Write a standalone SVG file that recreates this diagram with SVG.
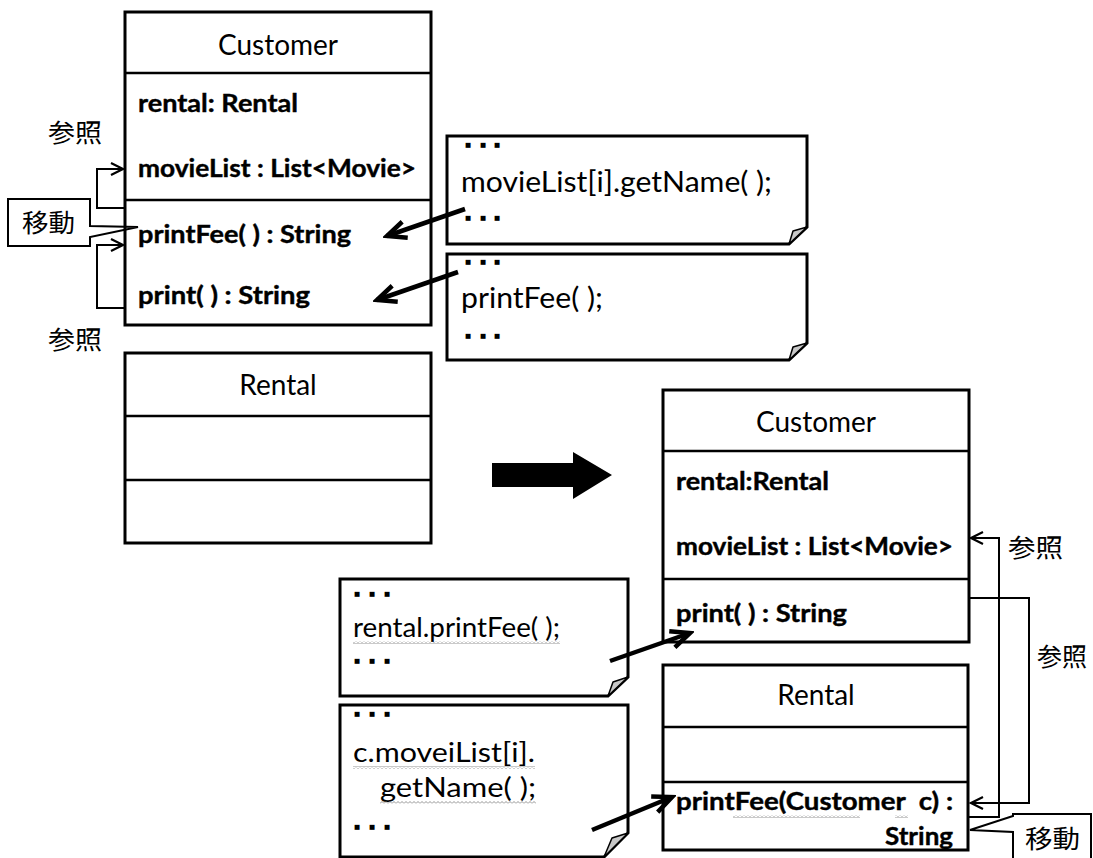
<svg xmlns="http://www.w3.org/2000/svg" width="1093" height="858" viewBox="0 0 1093 858">
<style>
.box{fill:none;stroke:#000;stroke-width:3}
.div{stroke:#000;stroke-width:2.5}
.title{font-family:Lato,"Liberation Sans",sans-serif;font-size:28px;fill:#000}
.attr{font-family:Lato,"Liberation Sans",sans-serif;font-size:24px;font-weight:bold;fill:#000;stroke:#000;stroke-width:0.4}
.code{font-family:Lato,"Liberation Sans",sans-serif;font-size:28px;fill:#000}
.code2{font-family:Lato,"Liberation Sans",sans-serif;font-size:26px;fill:#000}
.dots{font-family:"DejaVu Sans",sans-serif;font-size:6.5px;fill:#000}
.jp{font-family:"Noto Sans CJK JP",sans-serif;font-size:25px;fill:#000}
.note{fill:#fff;stroke:#000;stroke-width:3;stroke-linejoin:miter}
.fold{fill:#c8c8c8;stroke:#000;stroke-width:1.5;stroke-linejoin:round}
.thick{fill:none;stroke:#000;stroke-width:4.5;marker-end:url(#ah)}
.thin{fill:none;stroke:#000;stroke-width:2;marker-end:url(#th)}
.callout{fill:#fff;stroke:#000;stroke-width:2}
</style>
<defs>
<marker id="ah" markerUnits="userSpaceOnUse" viewBox="0 0 26 22" markerWidth="26" markerHeight="22" refX="22" refY="11" orient="auto">
<path d="M3,2.5 L22,11 L3,19.5" fill="none" stroke="#000" stroke-width="4.5"/>
</marker>
<marker id="th" markerUnits="userSpaceOnUse" viewBox="0 0 16 16" markerWidth="16" markerHeight="16" refX="14" refY="8" orient="auto">
<path d="M2,2 L14,8 L2,14" fill="none" stroke="#000" stroke-width="2.2"/>
</marker>
<pattern id="wave" width="4" height="3" patternUnits="userSpaceOnUse">
<path d="M0,2.5 L2,0.5 L4,2.5" fill="none" stroke="#777" stroke-width="0.8"/>
</pattern>
</defs>
<rect width="1093" height="858" fill="#fff"/>

<g id="callout-left">
<path class="callout" d="M8,199 L90,199 L90,226 L138,227 L90,237 L90,246 L8,246 Z"/>
<text class="jp" x="22" y="232" textLength="53" lengthAdjust="spacingAndGlyphs">移動</text>
</g>

<g id="customer-old">
<rect class="box" x="125" y="12" width="306" height="313"/>
<line class="div" x1="125" y1="73" x2="431" y2="73"/>
<line class="div" x1="125" y1="200" x2="431" y2="200"/>
<text class="title" x="278" y="55" text-anchor="middle">Customer</text>
<text class="attr" x="138" y="112" textLength="160" lengthAdjust="spacingAndGlyphs">rental: Rental</text>
<text class="attr" x="138" y="177" textLength="278" lengthAdjust="spacingAndGlyphs">movieList : List&lt;Movie&gt;</text>
<text class="attr" x="138" y="243" textLength="213" lengthAdjust="spacingAndGlyphs">printFee( ) : String</text>
<text class="attr" x="138" y="304" textLength="172" lengthAdjust="spacingAndGlyphs">print( ) : String</text>
</g>

<g id="rental-old">
<rect class="box" x="125" y="353" width="306" height="190"/>
<line class="div" x1="125" y1="416" x2="431" y2="416"/>
<line class="div" x1="125" y1="480" x2="431" y2="480"/>
<text class="title" x="278" y="395" text-anchor="middle">Rental</text>
</g>

<g id="note1">
<path class="note" d="M447,136 L807,136 L807,227 L789,244 L447,244 Z"/>
<path class="fold" d="M807,227 L793,231 L789,244 Z"/>
<text class="dots" x="465 480 494" y="147">■■■</text>
<text class="code" x="461" y="192" textLength="311" lengthAdjust="spacingAndGlyphs">movieList[i].getName( );</text>
<text class="dots" x="465 480 494" y="220">■■■</text>
</g>

<g id="note2">
<path class="note" d="M447,254 L807,254 L807,343 L789,360 L447,360 Z"/>
<path class="fold" d="M807,343 L793,347 L789,360 Z"/>
<text class="dots" x="465 480 494" y="264">■■■</text>
<text class="code" x="461" y="308" textLength="142" lengthAdjust="spacingAndGlyphs">printFee( );</text>
<text class="dots" x="465 480 494" y="338">■■■</text>
</g>

<g id="big-arrow">
<polygon points="492,463 573,463 573,452 612,475 573,499 573,487 492,487" fill="#000"/>
</g>

<g id="customer-new">
<rect class="box" x="663" y="390" width="306" height="252"/>
<line class="div" x1="663" y1="451" x2="969" y2="451"/>
<line class="div" x1="663" y1="579" x2="969" y2="579"/>
<text class="title" x="816" y="432" text-anchor="middle">Customer</text>
<text class="attr" x="676" y="490" textLength="153" lengthAdjust="spacingAndGlyphs">rental:Rental</text>
<text class="attr" x="676" y="555" textLength="277" lengthAdjust="spacingAndGlyphs">movieList : List&lt;Movie&gt;</text>
<text class="attr" x="676" y="622" textLength="171" lengthAdjust="spacingAndGlyphs">print( ) : String</text>
</g>

<g id="rental-new">
<rect class="box" x="663" y="665" width="305" height="185"/>
<line class="div" x1="663" y1="727" x2="968" y2="727"/>
<line class="div" x1="663" y1="782" x2="968" y2="782"/>
<text class="title" x="816" y="705" text-anchor="middle">Rental</text>
<text class="attr" x="676" y="810" textLength="277" lengthAdjust="spacingAndGlyphs" style="white-space:pre">printFee(Customer  c) :</text>
<text class="attr" x="953" y="845" text-anchor="end" textLength="68" lengthAdjust="spacingAndGlyphs">String</text>
<rect x="733" y="815" width="127" height="3" fill="url(#wave)"/>
<rect x="895" y="815" width="13" height="3" fill="url(#wave)"/>
</g>

<g id="note3">
<path class="note" d="M340,579 L628,579 L628,677 L608,696 L340,696 Z"/>
<path class="fold" d="M628,677 L613,682 L608,696 Z"/>
<text class="dots" x="354 369 384" y="596">■■■</text>
<text class="code2" x="353" y="637" textLength="207" lengthAdjust="spacingAndGlyphs">rental.printFee( );</text>
<rect x="353" y="641" width="207" height="3" fill="url(#wave)"/>
<text class="dots" x="354 369 384" y="663">■■■</text>
</g>

<g id="note4">
<path class="note" d="M340,705 L628,705 L628,833 L604,857 L340,857 Z"/>
<path class="fold" d="M628,833 L612,838 L604,857 Z"/>
<text class="dots" x="354 369 384" y="716">■■■</text>
<text class="code2" x="353" y="762" textLength="182" lengthAdjust="spacingAndGlyphs">c.moveiList[i].</text>
<rect x="353" y="766" width="182" height="3" fill="url(#wave)"/>
<text class="code2" x="380" y="797" textLength="156" lengthAdjust="spacingAndGlyphs">getName( );</text>
<rect x="380" y="801" width="156" height="3" fill="url(#wave)"/>
<text class="dots" x="354 369 384" y="829">■■■</text>
</g>

<g id="callout-right">
<path class="callout" d="M1091,814 L1013,814 L1013,816 L970,830 L1013,832 L1013,870 L1091,870 Z"/>
<text class="jp" x="1025" y="848" textLength="55" lengthAdjust="spacingAndGlyphs">移動</text>
</g>

<g id="labels">
<text class="jp" x="48" y="142" textLength="54" lengthAdjust="spacingAndGlyphs">参照</text>
<text class="jp" x="48" y="349" textLength="54" lengthAdjust="spacingAndGlyphs">参照</text>
<text class="jp" x="1008" y="557" textLength="55" lengthAdjust="spacingAndGlyphs">参照</text>
<text class="jp" x="1037" y="666" textLength="50" lengthAdjust="spacingAndGlyphs">参照</text>
</g>

<g id="connectors">
<polyline class="thin" points="125,208 97,208 97,169 123,169"/>
<polyline class="thin" points="125,308 97,308 97,245 123,245"/>
<polyline class="thin" points="969,817 999,817 999,538 971,538"/>
<polyline class="thin" points="969,598 1029,598 1029,803 971,803"/>
<line class="thick" x1="465" y1="209" x2="387" y2="236"/>
<line class="thick" x1="458" y1="272" x2="377" y2="300"/>
<line class="thick" x1="610" y1="661" x2="690" y2="633"/>
<line class="thick" x1="592" y1="830" x2="672" y2="797"/>
</g>
</svg>
